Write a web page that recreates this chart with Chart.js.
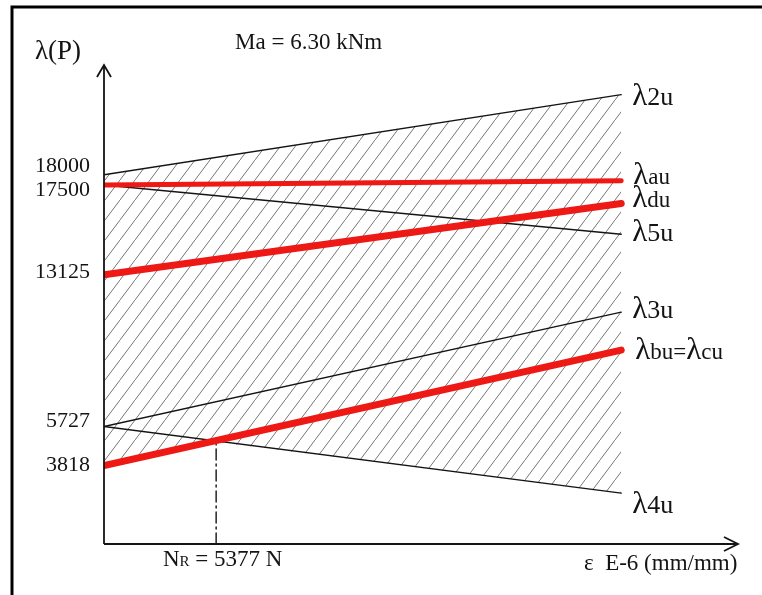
<!DOCTYPE html>
<html>
<head>
<meta charset="utf-8">
<script src="https://cdn.jsdelivr.net/npm/chart.js@4"></script>
<style>
  body { margin: 0; background: #fff; }
  canvas { display: block; }
</style>
</head>
<body>
<canvas id="myChart" width="762" height="595"></canvas>
<script>
// load P (N) at start and end of every line
const loadX = [0, 24800];
const lam2u = [18000, 21900];
const lamAu = [17500, 17700];
const lamDu = [13125, 16600];
const lam5u = [17500, 15100];
const lam3u = [5727, 11300];
const lamBu = [3818, 9450];
const lam4u = [5727, 2480];

// lower edge of the hatched zone (follows λbu up to NR, then λ4u)
const hatchLowX = [0, 5377, 24800];
const hatchLowY = [3818, 4970, 2480];

const nR = 5377;
const yTicks = [18000, 17500, 13125, 5727, 3818];

const serif = "'Liberation Serif', 'DejaVu Serif', serif";
const ink = "#141414";
const red = "rgb(238,24,20)";

function pts(xs, ys) {
  return xs.map((x, i) => ({ x: x, y: ys[i] }));
}

// diagonal hatch pattern
function hatch() {
  const c = document.createElement("canvas");
  c.width = 15;
  c.height = 20;
  const g = c.getContext("2d");
  g.strokeStyle = "#666";
  g.lineWidth = 0.9;
  g.beginPath();
  g.moveTo(-1.5, 22);
  g.lineTo(16.5, -2);
  g.stroke();
  return g.createPattern(c, "repeat");
}

// text pieces: [text, size]
function drawParts(ctx, x, y, parts) {
  ctx.textBaseline = "alphabetic";
  ctx.textAlign = "left";
  parts.forEach((p) => {
    ctx.font = p[1] + "px " + serif;
    ctx.fillText(p[0], x, y);
    x += ctx.measureText(p[0]).width;
  });
}

const tickNudge = { 18000: -8, 17500: 5, 13125: -2, 5727: -5, 3818: 0 };

const seriesLabels = [
  { data: lam2u, dy: 1, dx: 0, parts: [["λ", 31], ["2u", 26]] },
  { data: lamAu, dy: -6, dx: 1, parts: [["λ", 31], ["au", 23]] },
  { data: lamDu, dy: -5, dx: 0, parts: [["λ", 31], ["du", 23]] },
  { data: lam5u, dy: -2, dx: 0, parts: [["λ", 31], ["5u", 26]] },
  { data: lam3u, dy: -3, dx: 0, parts: [["λ", 31], ["3u", 26]] },
  { data: lamBu, dy: 0, dx: 3, parts: [["λ", 31], ["bu=", 23], ["λ", 31], ["cu", 23]] },
  { data: lam4u, dy: 11, dx: 0, parts: [["λ", 31], ["4u", 26]] },
];

const sketchPlugin = {
  id: "sketch",
  beforeDraw(chart) {
    const ctx = chart.ctx;
    ctx.save();
    ctx.fillStyle = "#fff";
    ctx.fillRect(0, 0, chart.width, chart.height);
    ctx.restore();
  },
  afterDraw(chart) {
    const ctx = chart.ctx;
    const a = chart.chartArea;
    const xs = chart.scales.x;
    const ys = chart.scales.y;
    ctx.save();

    // frame
    ctx.strokeStyle = "#000";
    ctx.lineWidth = 3;
    ctx.beginPath();
    ctx.moveTo(12, 600);
    ctx.lineTo(12, 7);
    ctx.lineTo(770, 7);
    ctx.stroke();

    // axes with open arrow heads
    ctx.strokeStyle = ink;
    ctx.lineWidth = 1.8;
    ctx.beginPath();
    ctx.moveTo(a.left, a.bottom);
    ctx.lineTo(a.left, a.top - 3);
    ctx.moveTo(a.left - 7, a.top + 9);
    ctx.lineTo(a.left, a.top - 3);
    ctx.lineTo(a.left + 7, a.top + 9);
    ctx.moveTo(a.left, a.bottom);
    ctx.lineTo(a.right, a.bottom);
    ctx.moveTo(a.right - 14, a.bottom - 7);
    ctx.lineTo(a.right, a.bottom);
    ctx.lineTo(a.right - 14, a.bottom + 7);
    ctx.stroke();

    ctx.fillStyle = ink;

    // y tick labels
    ctx.font = "22px " + serif;
    ctx.textAlign = "right";
    ctx.textBaseline = "middle";
    yTicks.forEach((v) => {
      ctx.fillText(String(v), 90, ys.getPixelForValue(v) + tickNudge[v]);
    });

    // line end labels
    seriesLabels.forEach((s) => {
      const px = xs.getPixelForValue(loadX[1]) + 11 + s.dx;
      const py = ys.getPixelForValue(s.data[1]) + s.dy + 9;
      drawParts(ctx, px, py, s.parts);
    });

    // titles
    drawParts(ctx, 35, 59, [["λ(P)", 27]]);
    drawParts(ctx, 235, 49, [["Ma = 6.30 kNm", 23]]);
    drawParts(ctx, 584, 570, [["ε  E-6 (mm/mm)", 23]]);
    drawParts(ctx, 163, 566, [["N", 23], ["R", 15], [" = 5377 N", 23]]);

    ctx.restore();
  },
};

const config = {
  type: "line",
  data: {
    datasets: [
      {
        label: "λ2u",
        data: pts(loadX, lam2u),
        borderColor: ink,
        borderWidth: 1.4,
        backgroundColor: hatch(),
        fill: 7,
      },
      {
        label: "λau",
        data: pts(loadX, lamAu),
        borderColor: red,
        borderWidth: 5,
      },
      {
        label: "λdu",
        data: pts(loadX, lamDu),
        borderColor: red,
        borderWidth: 7,
      },
      {
        label: "λ5u",
        data: pts(loadX, lam5u),
        borderColor: ink,
        borderWidth: 1.4,
      },
      {
        label: "λ3u",
        data: pts(loadX, lam3u),
        borderColor: ink,
        borderWidth: 1.4,
      },
      {
        label: "λbu=λcu",
        data: pts(loadX, lamBu),
        borderColor: red,
        borderWidth: 7,
      },
      {
        label: "λ4u",
        data: pts(loadX, lam4u),
        borderColor: ink,
        borderWidth: 1.4,
      },
      {
        label: "hatch low",
        data: pts(hatchLowX, hatchLowY),
        borderWidth: 0,
        borderColor: "rgba(0,0,0,0)",
      },
      {
        label: "NR",
        data: pts([nR, nR], [0, hatchLowY[1]]),
        borderColor: ink,
        borderWidth: 1.4,
        borderDash: [11, 4, 2, 4],
      },
    ],
  },
  options: {
    responsive: false,
    animation: false,
    layout: {
      padding: { left: 104, right: 24, top: 68, bottom: 51 },
    },
    elements: {
      point: { radius: 0 },
      line: { tension: 0, borderCapStyle: "round" },
    },
    scales: {
      x: { type: "linear", min: 0, max: 30400, display: false },
      y: { type: "linear", min: 0, max: 23200, display: false },
    },
    plugins: {
      legend: { display: false },
      tooltip: { enabled: false },
      filler: { drawTime: "beforeDatasetsDraw" },
    },
  },
  plugins: [sketchPlugin],
};

var myChart = new Chart(document.getElementById("myChart"), config);
</script>
</body>
</html>
